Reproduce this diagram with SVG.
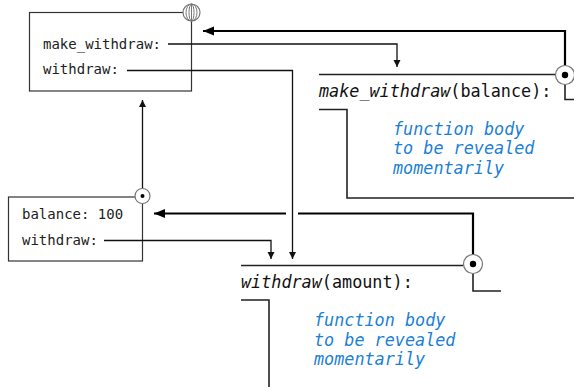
<svg xmlns="http://www.w3.org/2000/svg" width="574" height="387" viewBox="0 0 574 387">
  <style>
    .frame { fill: #fff; stroke: #333; stroke-width: 1.2; }
    .ftext { font-family: "DejaVu Sans Mono", monospace; font-size: 14px; fill: #222; }
    .fn { font-family: "DejaVu Sans Mono", monospace; font-size: 16.8px; fill: #111; }
    .body { font-family: "DejaVu Sans Mono", monospace; font-size: 16.8px; font-style: italic; fill: #1a80d6; }
    .thin { fill: none; stroke: #111; stroke-width: 1.3; }
    .thick { fill: none; stroke: #000; stroke-width: 2.2; }
    .rule { fill: none; stroke: #222; stroke-width: 1.6; }
    .ring { fill: #fff; stroke: #777; stroke-width: 1.2; }
  </style>
  <defs>
    <marker id="ah" markerWidth="8" markerHeight="8" refX="7" refY="4" orient="auto" markerUnits="userSpaceOnUse">
      <path d="M0,0.5 L7,4 L0,7.5 Z" fill="#111"/>
    </marker>
    <marker id="ahBig" markerWidth="12" markerHeight="10" refX="11" refY="5" orient="auto" markerUnits="userSpaceOnUse">
      <path d="M0,0.5 L11,5 L0,9.5 Z" fill="#000"/>
    </marker>
  </defs>

  <!-- global frame -->
  <g id="global-frame">
    <rect class="frame" x="29.5" y="12.5" width="162" height="78.5"/>
    <text class="ftext" x="43" y="49">make_withdraw:</text>
    <text class="ftext" x="43" y="74">withdraw:</text>
    <circle class="ring" cx="191.5" cy="12.5" r="8.5"/>
    <ellipse cx="191.5" cy="12.5" rx="5.5" ry="8.5" fill="none" stroke="#777" stroke-width="1"/>
    <ellipse cx="191.5" cy="12.5" rx="2.5" ry="8.5" fill="none" stroke="#777" stroke-width="1"/>
    <line x1="191.5" y1="4" x2="191.5" y2="21" stroke="#777" stroke-width="1"/>
  </g>

  <!-- make_withdraw function -->
  <g id="fn-make-withdraw">
    <line class="rule" x1="319" y1="74.5" x2="555.5" y2="74.5"/>
    <text class="fn" x="319" y="97"><tspan font-style="italic">make_withdraw</tspan>(balance):</text>
    <path class="rule" d="M565,84 V99.5 H574"/>
    <path class="rule" d="M319,109.5 H347 V198 H574"/>
    <text class="body" x="393" y="134.5">function body</text>
    <text class="body" x="393" y="154">to be revealed</text>
    <text class="body" x="393" y="173.5">momentarily</text>
  </g>

  <!-- balance frame -->
  <g id="balance-frame">
    <rect class="frame" x="8.5" y="197" width="134" height="64"/>
    <text class="ftext" x="22" y="219">balance: 100</text>
    <text class="ftext" x="22" y="245">withdraw:</text>
  </g>

  <!-- withdraw function -->
  <g id="fn-withdraw">
    <line class="rule" x1="241" y1="265.5" x2="463.5" y2="265.5"/>
    <text class="fn" x="241" y="288"><tspan font-style="italic">withdraw</tspan>(amount):</text>
    <path class="rule" d="M473,274 V291 H501"/>
    <path class="rule" d="M241,300 H269 V387"/>
    <text class="body" x="314" y="326">function body</text>
    <text class="body" x="314" y="345.5">to be revealed</text>
    <text class="body" x="314" y="365">momentarily</text>
  </g>

  <!-- connectors -->
  <g id="connectors">
    <path class="thin" d="M168,44 H397 V67" marker-end="url(#ah)"/>
    <path class="thin" d="M127,70.5 H292.5 V259" marker-end="url(#ah)"/>
    <path class="thick" d="M565,75 V31 H203" marker-end="url(#ahBig)"/>
    <path class="thin" d="M142.5,196 V100" marker-end="url(#ah)"/>
    <path class="thin" d="M104,240.5 H271 V259" marker-end="url(#ah)"/>
    <path class="thick" d="M473,264 V213.5 H298"/>
    <path class="thick" d="M286,213.5 H154" marker-end="url(#ahBig)"/>

    <!-- environment pointers -->
    <circle class="ring" cx="565" cy="75" r="9.5"/>
    <circle cx="565" cy="75" r="3.2" fill="#000"/>
    <circle class="ring" cx="473" cy="264" r="9.5"/>
    <circle cx="473" cy="264" r="3.2" fill="#000"/>
    <circle class="ring" cx="142.5" cy="196" r="7.5"/>
    <circle cx="142.5" cy="196" r="2" fill="#000"/>
  </g>
</svg>
